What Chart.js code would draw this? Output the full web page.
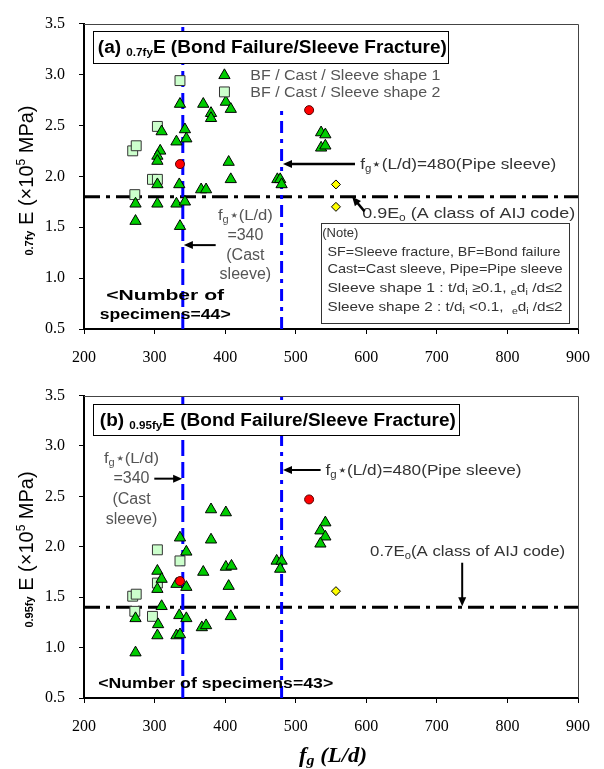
<!DOCTYPE html>
<html>
<head>
<meta charset="utf-8">
<script src="https://cdn.jsdelivr.net/npm/chart.js@4.4.1/dist/chart.umd.min.js"></script>
<style>
  html, body { margin: 0; padding: 0; background: #fff; width: 604px; height: 769px; overflow: hidden; }
  canvas { position: absolute; left: 0; }
  #chartA { top: 0; }
  #chartB { top: 372px; }
</style>
</head>
<body>
<canvas id="chartA" width="604" height="372" style="width:604px;height:372px"></canvas>
<canvas id="chartB" width="604" height="397" style="width:604px;height:397px"></canvas>
<script>
// (a) 0.7fy E -- f_g(L/d) vs secant stiffness at 0.7fy
const shape1A_x = [336, 369, 401, 408, 380, 380, 310, 343, 345, 331, 308, 304, 304, 405, 536, 542, 536, 542, 474, 478, 480, 408, 304, 335, 366, 373, 273, 304, 331, 343, 273, 336]
const shape1A_y = [2.71, 2.71, 2.73, 2.66, 2.62, 2.57, 2.44, 2.46, 2.37, 2.34, 2.25, 2.20, 2.15, 2.14, 2.43, 2.41, 2.28, 2.30, 1.97, 1.97, 1.92, 1.97, 1.92, 1.92, 1.87, 1.87, 1.73, 1.73, 1.73, 1.75, 1.56, 1.51]
const shape2A_x = [336, 304, 269, 274, 297, 304, 272]
const shape2A_y = [2.94, 2.49, 2.25, 2.30, 1.97, 1.97, 1.82]
const redA_x = [336, 519]
const redA_y = [2.12, 2.65]
const yellowA_x = [557, 557]
const yellowA_y = [1.92, 1.70]

// (b) 0.95fy E
const shape1B_x = [380, 401, 542, 535, 542, 535, 336, 380, 345, 473, 480, 478, 401, 409, 369, 304, 310, 331, 405, 345, 304, 310, 273, 335, 345, 305, 367, 373, 408, 304, 331, 336, 273]
const shape1B_y = [2.37, 2.34, 2.24, 2.16, 2.10, 2.03, 2.09, 2.07, 1.95, 1.86, 1.86, 1.78, 1.80, 1.81, 1.75, 1.76, 1.68, 1.63, 1.61, 1.60, 1.58, 1.41, 1.29, 1.32, 1.29, 1.23, 1.20, 1.22, 1.31, 1.12, 1.12, 1.13, 0.95]
const shape2B_x = [304, 336, 304, 269, 274, 272, 297]
const shape2B_y = [1.97, 1.86, 1.64, 1.51, 1.53, 1.36, 1.31]
const redB_x = [519, 336]
const redB_y = [2.47, 1.66]
const yellowB_x = [557]
const yellowB_y = [1.56]

// reference lines: cast / pipe sleeve limits and AIJ stiffness levels
const castLimit = 340
const pipeLimit = 480
const pipeTopA = 2.66
const aijLevelA = 1.8
const aijLevelB = 1.4

const xTicks = [200, 900, 100]   // min, max, step
const yTicks = [0.5, 3.5, 0.5]

const SANS = '"Liberation Sans", Arial, sans-serif'
const SERIF = '"Liberation Serif", "Times New Roman", serif'

const markers = {
  shape1: { pointStyle: 'triangle', radius: 6.5, bg: '#00cc00', border: '#000' },
  shape2: { pointStyle: 'rect', radius: 7, bg: '#ccffcc', border: '#333' },
  red: { pointStyle: 'circle', radius: 4.5, bg: '#ff0000', border: '#500' },
  yellow: { pointStyle: 'rectRot', radius: 4.5, bg: '#ffff00', border: '#000' }
}

const pts = (xs, ys) => xs.map((x, i) => ({ x, y: ys[i] }))

function scatterSet(xs, ys, m) {
  return {
    data: pts(xs, ys),
    showLine: false,
    pointStyle: m.pointStyle,
    pointRadius: m.radius,
    pointBackgroundColor: m.bg,
    pointBorderColor: m.border,
    pointBorderWidth: 1
  }
}

function refLine(xs, ys, color, dash) {
  return {
    data: pts(xs, ys),
    showLine: true,
    borderColor: color,
    borderWidth: 3,
    borderDash: dash,
    pointRadius: 0,
    fill: false
  }
}

// text made of several differently sized pieces (sub/superscripts)
function textRuns(ctx, parts, x, y, { align = 'left', width = 0, color = '#000', angle = 0 } = {}) {
  ctx.save()
  ctx.translate(x, y)
  if (angle) ctx.rotate(angle)
  const widths = parts.map(p => { ctx.font = p[1]; return ctx.measureText(p[0]).width })
  const natural = widths.reduce((a, b) => a + b, 0)
  const sx = width ? width / natural : 1
  const start = align === 'center' ? -natural * sx / 2 : align === 'right' ? -natural * sx : 0
  ctx.translate(start, 0)
  ctx.scale(sx, 1)
  ctx.fillStyle = color
  ctx.textAlign = 'left'
  ctx.textBaseline = 'alphabetic'
  let cx = 0
  parts.forEach((p, i) => { ctx.font = p[1]; ctx.fillText(p[0], cx, p[2] || 0); cx += widths[i] })
  ctx.restore()
}

function arrow(ctx, x1, y1, x2, y2, w = 2) {
  const a = Math.atan2(y2 - y1, x2 - x1), L = 9, H = 4
  ctx.save()
  ctx.strokeStyle = '#000'
  ctx.fillStyle = '#000'
  ctx.lineWidth = w
  ctx.beginPath()
  ctx.moveTo(x1, y1)
  ctx.lineTo(x2 - L * 0.7 * Math.cos(a), y2 - L * 0.7 * Math.sin(a))
  ctx.stroke()
  ctx.beginPath()
  ctx.moveTo(x2, y2)
  ctx.lineTo(x2 - L * Math.cos(a) + H * Math.sin(a), y2 - L * Math.sin(a) - H * Math.cos(a))
  ctx.lineTo(x2 - L * Math.cos(a) - H * Math.sin(a), y2 - L * Math.sin(a) + H * Math.cos(a))
  ctx.closePath()
  ctx.fill()
  ctx.restore()
}

function box(ctx, x1, y1, x2, y2, stroke) {
  const l = Math.round(x1) + 0.5, t = Math.round(y1) + 0.5
  const w = Math.round(x2 - x1), h = Math.round(y2 - y1)
  ctx.save()
  ctx.fillStyle = '#fff'
  ctx.fillRect(l, t, w, h)
  ctx.strokeStyle = stroke
  ctx.lineWidth = 1
  ctx.strokeRect(l, t, w, h)
  ctx.restore()
}

function marker(ctx, m, x, y) {
  ctx.save()
  ctx.fillStyle = m.bg
  ctx.strokeStyle = m.border
  ctx.lineWidth = 1
  Chart.helpers.drawPoint(ctx, { pointStyle: m.pointStyle, radius: m.radius, rotation: 0, borderWidth: 1 }, x, y)
  ctx.restore()
}

const f15 = `15px ${SANS}`, f10 = `10px ${SANS}`
const fgRuns = rest => [['f', f15], ['g', f10, 3], [rest, f15]]
const countFont = `bold 15px ${SANS}`

function notesA(ctx, X, Y) {
  const B18 = `bold 18px ${SANS}`
  box(ctx, X(213), Y(3.423), X(716), Y(3.107), '#000')
  textRuns(ctx, [['(a) ', B18], ['0.7fy', `bold 11px ${SANS}`, 3], ['E', B18], [' (Bond Failure/Sleeve Fracture)', B18]],
    X(219.6), Y(3.212), { width: 349 })

  marker(ctx, markers.shape1, X(399), Y(2.992))
  marker(ctx, markers.shape2, X(399), Y(2.829))
  textRuns(ctx, [['BF / Cast / Sleeve shape 1', `14px ${SANS}`]], X(435.7), Y(2.944), { width: 190, color: '#555' })
  textRuns(ctx, [['BF / Cast / Sleeve shape 2', `14px ${SANS}`]], X(435.7), Y(2.781), { width: 190, color: '#555' })

  arrow(ctx, X(584), Y(2.12), X(482), Y(2.12), 2.5)
  textRuns(ctx, fgRuns('\u22c6(L/d)=480(Pipe sleeve)'), X(591.4), Y(2.072), { width: 196, color: '#333' })

  const c = X(428.7)
  textRuns(ctx, fgRuns('\u22c6(L/d)'), c, Y(1.573), { align: 'center', width: 55, color: '#555' })
  textRuns(ctx, [['=340', `16px ${SANS}`]], c, Y(1.372), { align: 'center', color: '#555' })
  textRuns(ctx, [['(Cast', `16px ${SANS}`]], c, Y(1.180), { align: 'center', color: '#555' })
  textRuns(ctx, [['sleeve)', `16px ${SANS}`]], c, Y(0.989), { align: 'center', color: '#555' })
  arrow(ctx, X(386.6), Y(1.324), X(341.5), Y(1.324), 2)

  textRuns(ctx, [['<Number of', countFont]], X(315), Y(0.788), { align: 'center', width: 118 })
  textRuns(ctx, [['specimens=44>', countFont]], X(315), Y(0.596), { align: 'center', width: 131 })

  textRuns(ctx, [['0.9E', f15], ['o', f10, 3], [' (A class of AIJ code)', f15]], X(594.2), Y(1.593), { width: 213, color: '#333' })
  arrow(ctx, X(597.5), Y(1.655), X(580), Y(1.80), 2.5)

  box(ctx, X(535.3), Y(1.545), X(887.4), Y(0.567), '#333')
  const n13 = `13px ${SANS}`, n9 = `9px ${SANS}`
  textRuns(ctx, [['(Note)', n13]], X(537.5), Y(1.401), { color: '#333' })
  textRuns(ctx, [['SF=Sleeve fracture, BF=Bond failure', n13]], X(545), Y(1.219), { width: 233, color: '#333' })
  textRuns(ctx, [['Cast=Cast sleeve, Pipe=Pipe sleeve', n13]], X(545), Y(1.046), { width: 235, color: '#333' })
  textRuns(ctx, [['Sleeve shape 1 : t/d', n13], ['i', n9, 3], [' \u22650.1, ', n13], ['e', n9, 3], ['d', n13], ['i', n9, 3], [' /d\u22642', n13]],
    X(545), Y(0.864), { width: 235, color: '#333' })
  textRuns(ctx, [['Sleeve shape 2 : t/d', n13], ['i', n9, 3], [' <0.1,  ', n13], ['e', n9, 3], ['d', n13], ['i', n9, 3], [' /d\u22642', n13]],
    X(545), Y(0.672), { width: 235, color: '#333' })
}

function notesB(ctx, X, Y) {
  const B18 = `bold 18px ${SANS}`
  box(ctx, X(213), Y(3.414), X(731.6), Y(3.107), '#000')
  textRuns(ctx, [['(b) ', B18], ['0.95fy', `bold 11px ${SANS}`, 3], ['E', B18], [' (Bond Failure/Sleeve Fracture)', B18]],
    X(222.4), Y(3.203), { width: 356 })

  const c = X(267.3)
  textRuns(ctx, fgRuns('\u22c6(L/d)'), c, Y(2.829), { align: 'center', width: 55, color: '#555' })
  textRuns(ctx, [['=340', `16px ${SANS}`]], c, Y(2.628), { align: 'center', color: '#555' })
  textRuns(ctx, [['(Cast', `16px ${SANS}`]], c, Y(2.426), { align: 'center', color: '#555' })
  textRuns(ctx, [['sleeve)', `16px ${SANS}`]], c, Y(2.225), { align: 'center', color: '#555' })
  arrow(ctx, X(299.6), Y(2.676), X(339), Y(2.676), 2)

  arrow(ctx, X(535.3), Y(2.762), X(482), Y(2.762), 2)
  textRuns(ctx, fgRuns('\u22c6(L/d)=480(Pipe sleeve)'), X(542.3), Y(2.714), { width: 196, color: '#333' })

  textRuns(ctx, [['0.7E', f15], ['o', f10, 3], ['(A class of AIJ code)', f15]], X(605.4), Y(1.909), { width: 195, color: '#333' })
  arrow(ctx, X(735.9), Y(1.842), X(735.9), Y(1.41), 2)

  textRuns(ctx, [['<Number of specimens=43>', countFont]], X(386.6), Y(0.596), { align: 'center', width: 235 })
}

const notesById = { chartA: notesA, chartB: notesB }
const yTitleById = { chartA: '0.7fy', chartB: '0.95fy' }

const panelNotes = {
  id: 'panelNotes',
  afterDatasetsDraw(chart) {
    const { ctx, chartArea: a } = chart
    const X = v => chart.scales.x.getPixelForValue(v)
    const Y = v => chart.scales.y.getPixelForValue(v)
    // thin top and right frame
    ctx.save()
    ctx.strokeStyle = '#444'
    ctx.lineWidth = 1
    ctx.beginPath()
    ctx.moveTo(a.left, Math.round(a.top) + 0.5)
    ctx.lineTo(Math.round(a.right) + 0.5, Math.round(a.top) + 0.5)
    ctx.lineTo(Math.round(a.right) + 0.5, a.bottom)
    ctx.stroke()
    ctx.restore()
    notesById[chart.canvas.id](ctx, X, Y)
  },
  afterDraw(chart) {
    const { ctx, chartArea: a } = chart
    textRuns(ctx, [[yTitleById[chart.canvas.id], `bold 11px ${SANS}`], [' E (\u00d710', `20px ${SANS}`], ['5', `12px ${SANS}`, -8], [' MPa)', `20px ${SANS}`]],
      33, a.top + 232, { angle: -Math.PI / 2 })
    if (chart.canvas.id === 'chartB') {
      const BI = s => `italic bold ${s}px ${SERIF}`
      textRuns(ctx, [['f', BI(20)], ['g', BI(14), 3], [' (L/d)', BI(20)]], 333, a.bottom + 64, { align: 'center', width: 68 })
    }
  }
}

function buildChart(id, datasets, xAxisHeight, padTop) {
  return new Chart(document.getElementById(id), {
    type: 'scatter',
    data: { datasets },
    options: {
      responsive: false,
      animation: false,
      layout: { padding: { top: padTop, right: 21, left: 0, bottom: 0 } },
      plugins: { legend: { display: false }, tooltip: { enabled: false } },
      scales: {
        x: {
          type: 'linear',
          min: xTicks[0], max: xTicks[1],
          afterFit: s => { s.height = xAxisHeight },
          ticks: { stepSize: xTicks[2], maxRotation: 0, padding: 14, color: '#000', font: { family: SERIF, size: 16 } },
          grid: { drawOnChartArea: false, drawTicks: true, tickLength: 5, color: '#000', lineWidth: 1 },
          border: { display: true, color: '#000', width: 2 }
        },
        y: {
          type: 'linear',
          min: yTicks[0], max: yTicks[1],
          afterFit: s => { s.width = 84 },
          ticks: { stepSize: yTicks[2], padding: 14, color: '#000', font: { family: SERIF, size: 16 }, callback: v => v.toFixed(1) },
          grid: { drawOnChartArea: false, drawTicks: true, tickLength: 5, color: '#000', lineWidth: 1 },
          border: { display: true, color: '#000', width: 2 }
        }
      }
    },
    plugins: [panelNotes]
  })
}

const dashCast = [16, 6]
const dashPipe = [12, 6, 4, 6]
const dashAij = [16, 6, 4, 6]

buildChart('chartA', [
  scatterSet(yellowA_x, yellowA_y, markers.yellow),
  scatterSet(redA_x, redA_y, markers.red),
  scatterSet(shape1A_x, shape1A_y, markers.shape1),
  scatterSet(shape2A_x, shape2A_y, markers.shape2),
  refLine([castLimit, castLimit], [yTicks[0], yTicks[1]], '#0000ff', dashCast),
  refLine([pipeLimit, pipeLimit], [yTicks[0], pipeTopA], '#0000ff', dashPipe),
  refLine([xTicks[0], xTicks[1]], [aijLevelA, aijLevelA], '#000', dashAij)
], 43, 16)

buildChart('chartB', [
  scatterSet(yellowB_x, yellowB_y, markers.yellow),
  scatterSet(redB_x, redB_y, markers.red),
  scatterSet(shape1B_x, shape1B_y, markers.shape1),
  scatterSet(shape2B_x, shape2B_y, markers.shape2),
  refLine([castLimit, castLimit], [yTicks[0], yTicks[1]], '#0000ff', dashCast),
  refLine([pipeLimit, pipeLimit], [yTicks[0], yTicks[1]], '#0000ff', dashPipe),
  refLine([xTicks[0], xTicks[1]], [aijLevelB, aijLevelB], '#000', dashAij)
], 71, 13)
</script>
</body>
</html>
